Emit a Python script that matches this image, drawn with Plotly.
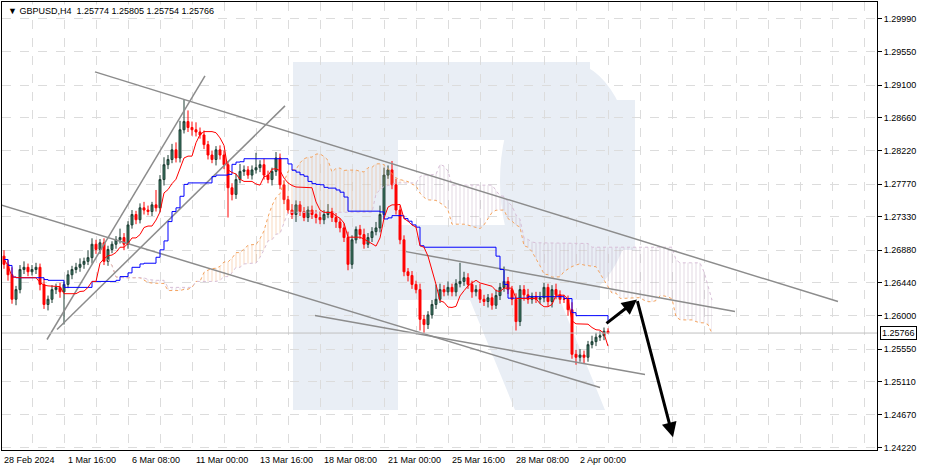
import numpy as np
import pandas as pd
import plotly.graph_objects as go

# closes per H4 candle (index 0 = first visible candle)
closes = [1.2669, 1.2655, 1.2622, 1.2635, 1.2662, 1.2665, 1.2659, 1.2662, 1.2665, 1.2642,
          1.2615, 1.2622, 1.2635, 1.2638, 1.2632, 1.2642, 1.2655, 1.2662, 1.2665, 1.2669,
          1.2673, 1.2678, 1.2696, 1.2689, 1.2698, 1.2673, 1.2689, 1.2696, 1.2702, 1.2705,
          1.2696, 1.2722, 1.2736, 1.2729, 1.2745, 1.2742, 1.2740, 1.2749, 1.2745, 1.2783,
          1.2803, 1.2810, 1.2823, 1.2812, 1.2850, 1.2861, 1.2853, 1.2850, 1.2847, 1.2843,
          1.2830, 1.2816, 1.2810, 1.2823, 1.2816, 1.2803, 1.2772, 1.2763, 1.2783, 1.2794,
          1.2796, 1.2789, 1.2796, 1.2799, 1.2803, 1.2789, 1.2783, 1.2794, 1.2812, 1.2776,
          1.2756, 1.2742, 1.2736, 1.2749, 1.2740, 1.2732, 1.2742, 1.2736, 1.2732, 1.2729,
          1.2736, 1.2740, 1.2732, 1.2726, 1.2718, 1.2705, 1.2669, 1.2702, 1.2716, 1.2709,
          1.2696, 1.2705, 1.2713, 1.2718, 1.2736, 1.2789, 1.2796, 1.2776, 1.2742, 1.2702,
          1.2659, 1.2654, 1.2642, 1.2635, 1.2595, 1.2588, 1.2601, 1.2615, 1.2622, 1.2635,
          1.2632, 1.2638, 1.2632, 1.2643, 1.2646, 1.2651, 1.2642, 1.2632, 1.2635, 1.2622,
          1.2619, 1.2624, 1.2614, 1.2627, 1.2638, 1.2646, 1.2635, 1.2622, 1.2592, 1.2635,
          1.2628, 1.2622, 1.2626, 1.2622, 1.2624, 1.2638, 1.2619, 1.2635, 1.2628, 1.2622,
          1.2622, 1.2608, 1.2548, 1.2544, 1.2547, 1.2544, 1.2561, 1.2565, 1.2571, 1.2573,
          1.2579, 1.25766]
first_open = 1.2680

# wick sizes in pips above/below the body
upper_wick = [8, 6, 10, 5, 6, 8, 5, 6, 6, 5, 8, 5, 6, 5, 6, 4, 6, 5, 6, 8,
              5, 10, 8, 6, 5, 6, 5, 4, 5, 12, 6, 5, 6, 5, 6, 8, 6, 4, 20, 6,
              10, 6, 8, 10, 12, 29, 15, 8, 10, 6, 6, 5, 6, 5, 6, 6, 5, 6, 8, 10,
              6, 5, 6, 20, 6, 8, 6, 5, 8, 6, 6, 5, 8, 6, 5, 6, 5, 6, 6, 8,
              6, 10, 5, 6, 5, 6, 8, 6, 4, 6, 8, 6, 6, 8, 12, 10, 6, 12, 8, 6,
              6, 5, 6, 5, 8, 6, 5, 6, 20, 8, 6, 8, 5, 6, 25, 8, 6, 5, 6, 8,
              6, 5, 6, 8, 6, 20, 6, 5, 8, 6, 6, 8, 5, 6, 8, 6, 5, 6, 8, 6,
              6, 5, 10, 6, 8, 6, 5, 8, 6, 6, 5, 4]
lower_wick = [6, 8, 6, 8, 5, 6, 6, 5, 6, 8, 6, 8, 5, 6, 8, 44, 5, 6, 5, 6,
              6, 5, 8, 6, 6, 5, 6, 5, 6, 5, 8, 6, 5, 6, 5, 6, 5, 6, 5, 6,
              8, 6, 5, 6, 6, 5, 6, 8, 6, 5, 6, 6, 5, 8, 6, 6, 40, 8, 6, 5,
              6, 5, 6, 5, 6, 6, 5, 8, 6, 6, 6, 5, 6, 10, 6, 5, 6, 6, 8, 6,
              6, 5, 6, 8, 6, 6, 8, 6, 5, 6, 6, 5, 6, 5, 6, 6, 5, 6, 6, 6,
              6, 8, 6, 5, 15, 12, 6, 5, 6, 5, 6, 5, 6, 6, 5, 6, 6, 8, 6, 5,
              6, 8, 6, 5, 6, 6, 6, 8, 12, 6, 8, 6, 6, 5, 6, 6, 6, 8, 6, 6,
              5, 8, 6, 10, 6, 8, 6, 5, 6, 5, 6, 1]

tick_prices = [1.29990, 1.29550, 1.29100, 1.28660, 1.28220, 1.27770, 1.27330,
               1.26880, 1.26440, 1.26000, 1.25550, 1.25110, 1.24670, 1.24220]
date_labels = ["28 Feb 2024", "1 Mar 16:00", "6 Mar 08:00", "11 Mar 00:00", "13 Mar 16:00",
               "18 Mar 08:00", "21 Mar 00:00", "25 Mar 16:00", "28 Mar 08:00", "2 Apr 00:00"]

# drawn trend lines: (idx0, price0, idx1, price1)
trend_lines = [(22.75, 1.29278, 208.5, 1.26189),
               (10.75, 1.25679, 50.25, 1.29224),
               (13.25, 1.25813, 70.25, 1.28821),
               (-1.0, 1.27492, 149.0, 1.25034),
               (77.75, 1.26001, 160.25, 1.25209),
               (100.5, 1.26861, 182.75, 1.26055)]
arrows = [(150.25, 1.25880, 158.25, 1.26216), (158.25, 1.26216, 167.25, 1.24363)]
last_price = 1.25766

df = pd.DataFrame({"close": closes})
df["open"] = [first_open] + closes[:-1]
df["high"] = df[["open", "close"]].max(axis=1) + np.array(upper_wick) * 0.0001
df["low"] = df[["open", "close"]].min(axis=1) - np.array(lower_wick) * 0.0001
n = len(df)


def mid(period):
    return (df["high"].rolling(period, min_periods=1).max() + df["low"].rolling(period, min_periods=1).min()) / 2


tenkan = mid(9)
kijun = mid(26)
span_a = np.concatenate([np.full(26, np.nan), ((tenkan + kijun) / 2).values])
span_b = np.concatenate([np.full(26, np.nan), mid(52).values])
cx = np.arange(len(span_a))

fig = go.Figure()


# watermark logo (pixel -> paper)
def px(x):
    return (x - 2) / 875


def py(y):
    return 1 - (y - 2) / 448


logo = "#e9eef5"
for x0, y0, x1, y1 in [(293, 62, 398, 410), (293, 62, 590, 140), (545, 100, 635, 250), (398, 225, 600, 300)]:
    fig.add_shape(type="rect", xref="paper", yref="paper", x0=px(x0), x1=px(x1), y0=py(y1), y1=py(y0),
                  fillcolor=logo, line_width=0, layer="below")
fig.add_shape(type="circle", xref="paper", yref="paper", x0=px(500), x1=px(635), y0=py(300), y1=py(62),
              fillcolor=logo, line_width=0, layer="below")
fig.add_shape(type="path", xref="paper", yref="paper",
              path=f"M {px(470)} {py(300)} L {px(560)} {py(300)} L {px(605)} {py(410)} L {px(515)} {py(410)} Z",
              fillcolor=logo, line_width=0, layer="below")

# cloud
a_up = np.where(span_a >= span_b, span_a, span_b)
b_up = np.where(span_b >= span_a, span_b, span_a)
fig.add_trace(go.Scatter(x=cx, y=span_b, mode="lines", line=dict(width=0), hoverinfo="skip", showlegend=False))
fig.add_trace(go.Scatter(x=cx, y=a_up, mode="lines", line=dict(width=0), fill="tonexty", fillcolor="rgba(0,0,0,0)",
                         fillpattern=dict(shape="|", fgcolor="#f0a060", size=4, solidity=0.2),
                         hoverinfo="skip", showlegend=False))
fig.add_trace(go.Scatter(x=cx, y=span_a, mode="lines", line=dict(width=0), hoverinfo="skip", showlegend=False))
fig.add_trace(go.Scatter(x=cx, y=b_up, mode="lines", line=dict(width=0), fill="tonexty", fillcolor="rgba(0,0,0,0)",
                         fillpattern=dict(shape="|", fgcolor="#b8a0b8", size=4, solidity=0.2),
                         hoverinfo="skip", showlegend=False))
fig.add_trace(go.Scatter(x=cx, y=span_a, mode="lines", line=dict(color="#f4a460", width=1, dash="dot"), showlegend=False))
fig.add_trace(go.Scatter(x=cx, y=span_b, mode="lines", line=dict(color="#d8bfd8", width=1, dash="dot"), showlegend=False))

for x0, y0, x1, y1 in trend_lines:
    fig.add_trace(go.Scatter(x=[x0, x1], y=[y0, y1], mode="lines", line=dict(color="#8c8c8c", width=1.5),
                             showlegend=False))

fig.add_trace(go.Candlestick(x=np.arange(n), open=df["open"], high=df["high"], low=df["low"], close=df["close"],
                             increasing=dict(fillcolor="#3b7a64", line=dict(color="#1e3f34", width=1)),
                             decreasing=dict(fillcolor="#ff0000", line=dict(color="#ff0000", width=1)),
                             whiskerwidth=0, showlegend=False))
fig.add_trace(go.Scatter(x=np.arange(n), y=kijun, mode="lines", line=dict(color="#0000ff", width=1, shape="hv"),
                         showlegend=False))
fig.add_trace(go.Scatter(x=np.arange(n), y=tenkan, mode="lines", line=dict(color="#ff0000", width=1),
                         showlegend=False))

for x0, y0, x1, y1 in arrows:
    fig.add_annotation(x=x1, y=y1, ax=x0, ay=y0, xref="x", yref="y", axref="x", ayref="y", text="",
                       showarrow=True, arrowhead=2, arrowsize=1, arrowwidth=3, arrowcolor="#000000")

fig.add_hline(y=last_price, line=dict(color="#c0c0c0", width=1))
fig.add_annotation(x=1, y=last_price, xref="paper", yref="y", xanchor="left", text="1.25766", showarrow=False,
                   font=dict(size=9, color="#000000", family="Liberation Sans"), bgcolor="#ffffff",
                   bordercolor="#000000", borderwidth=1, borderpad=1, xshift=3)

for i, lab in enumerate(date_labels):
    fig.add_annotation(x=i * 16 - 0.5, y=0, xref="x", yref="paper", yanchor="top", xanchor="left", text=lab,
                       showarrow=False, font=dict(size=9, family="Liberation Sans", color="#000000"), yshift=-3)

fig.add_annotation(x=0.005, y=0.995, xref="paper", yref="paper", xanchor="left", yanchor="top",
                   text="▼ GBPUSD,H4  1.25774 1.25805 1.25754 1.25766", showarrow=False,
                   font=dict(size=9, family="Liberation Sans", color="#000000"), bgcolor="#ffffff")

fig.update_layout(
    width=931, height=472,
    margin=dict(l=2, r=54, t=2, b=22, autoexpand=False),
    paper_bgcolor="#ffffff", plot_bgcolor="#ffffff",
    showlegend=False,
    xaxis=dict(range=[-0.5, 218.25], rangeslider=dict(visible=False), tickvals=list(range(-1, 219, 8)),
               showticklabels=False, showgrid=True, gridcolor="#dcdcdc", griddash="dash", zeroline=False,
               showline=True, linecolor="#000000", mirror=True, ticks="", automargin=False),
    yaxis=dict(range=[1.24193, 1.30218], side="right", tickvals=tick_prices,
               ticktext=[f"{v:.5f}" for v in tick_prices], showgrid=True, gridcolor="#dcdcdc", griddash="dash",
               ticks="outside", ticklen=4, tickcolor="#000000", zeroline=False, automargin=False,
               tickfont=dict(size=9, family="Liberation Sans", color="#000000"),
               showline=True, linecolor="#000000", mirror=True),
)
fig.write_html("out.html", config={"displayModeBar": False}, post_script="document.body.style.margin='0';")
